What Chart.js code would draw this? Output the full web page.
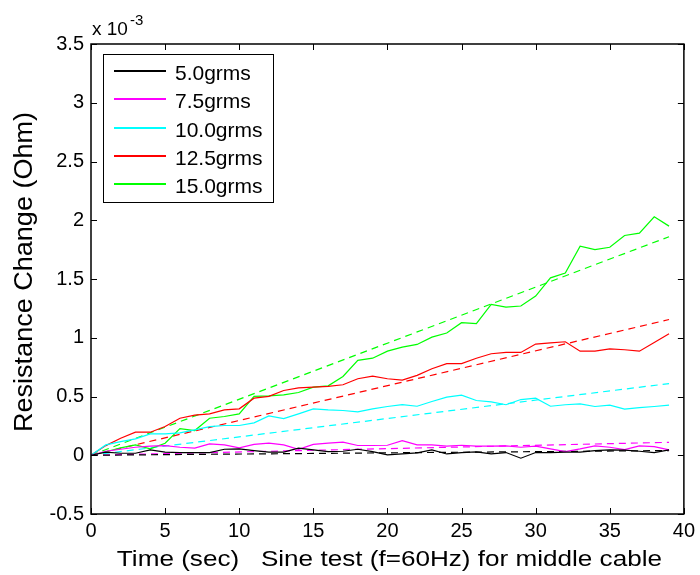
<!DOCTYPE html>
<html>
<head>
<meta charset="utf-8">
<script src="https://cdn.jsdelivr.net/npm/chart.js@4/dist/chart.umd.min.js"></script>
<style>
  html, body { margin: 0; padding: 0; background: #fff; }
  canvas { display: block; }
</style>
</head>
<body>
<canvas id="chart" width="700" height="575"></canvas>
<script>
// time in seconds, one sample per second
const times = [0, 1, 2, 3, 4, 5, 6, 7, 8, 9, 10, 11, 12, 13, 14, 15, 16, 17, 18, 19,
               20, 21, 22, 23, 24, 25, 26, 27, 28, 29, 30, 31, 32, 33, 34, 35, 36, 37, 38, 39];

// resistance change, in units of 1e-3 Ohm
const g5_0 = [0, 0.026, 0.017, 0.017, 0.046, 0.026, 0.023, 0.023, 0.023, 0.051,
              0.054, 0.040, 0.026, 0.026, 0.060, 0.046, 0.031, 0.034, 0.051, 0.031,
              0.003, 0.011, 0.020, 0.046, 0.011, 0.023, 0.029, 0.011, 0.023, -0.025,
              0.023, 0.023, 0.026, 0.026, 0.040, 0.046, 0.043, 0.034, 0.023, 0.046];
const g7_5 = [0, 0.034, 0.051, 0.068, 0.077, 0.082, 0.068, 0.060, 0.097, 0.088,
              0.063, 0.092, 0.103, 0.088, 0.051, 0.092, 0.103, 0.111, 0.083, 0.083,
              0.085, 0.125, 0.088, 0.088, 0.077, 0.085, 0.077, 0.077, 0.080, 0.068,
              0.077, 0.054, 0.031, 0.054, 0.080, 0.068, 0.048, 0.080, 0.074, 0.046];
const g10_0 = [0, 0.088, 0.116, 0.139, 0.182, 0.182, 0.190, 0.216, 0.244, 0.253,
               0.253, 0.276, 0.335, 0.312, 0.352, 0.395, 0.386, 0.381, 0.369, 0.395,
               0.415, 0.430, 0.417, 0.457, 0.494, 0.511, 0.466, 0.455, 0.430, 0.474,
               0.486, 0.417, 0.430, 0.438, 0.415, 0.426, 0.392, 0.406, 0.415, 0.426];
const g12_5 = [0, 0.082, 0.145, 0.196, 0.196, 0.244, 0.315, 0.341, 0.352, 0.386,
               0.395, 0.486, 0.501, 0.551, 0.574, 0.580, 0.586, 0.600, 0.651, 0.673,
               0.651, 0.640, 0.680, 0.736, 0.780, 0.780, 0.826, 0.864, 0.875, 0.875,
               0.946, 0.957, 0.966, 0.886, 0.886, 0.906, 0.898, 0.886, 0.960, 1.034];
const g15_0 = [0, 0.030, 0.063, 0.088, 0.054, 0.102, 0.227, 0.210, 0.315, 0.330,
               0.352, 0.501, 0.506, 0.514, 0.534, 0.580, 0.591, 0.670, 0.807, 0.826,
               0.886, 0.920, 0.943, 1.005, 1.040, 1.128, 1.120, 1.284, 1.260, 1.270,
               1.355, 1.510, 1.550, 1.780, 1.750, 1.770, 1.870, 1.890, 2.030, 1.950];

// linear fits (dashed), end points
const fitTimes = [0, 39];
const fit5_0 = [0, 0.04];
const fit7_5 = [0, 0.11];
const fit10_0 = [0, 0.61];
const fit12_5 = [0, 1.155];
const fit15_0 = [0, 1.86];

const seriesNames = ["5.0grms", "7.5grms", "10.0grms", "12.5grms", "15.0grms"];
const seriesColors = ["#000000", "#ff00ff", "#00ffff", "#ff0000", "#00ff00"];

const xTickLabels = ["0", "5", "10", "15", "20", "25", "30", "35", "40"];
const yTickLabels = ["-0.5", "0", "0.5", "1", "1.5", "2", "2.5", "3", "3.5"];

const xTitle = "Time (sec)   Sine test (f=60Hz) for middle cable";
const yTitle = "Resistance Change (Ohm)";

const FONT = "'Liberation Sans', Arial, sans-serif";

function toPoints(xs, ys) {
    return xs.map((x, i) => ({ x: x, y: ys[i] }));
}

const measured = [g5_0, g7_5, g10_0, g12_5, g15_0];
const fits = [fit5_0, fit7_5, fit10_0, fit12_5, fit15_0];

const datasets = [];
measured.forEach((vals, i) => {
    datasets.push({
        label: seriesNames[i],
        data: toPoints(times, vals),
        borderColor: seriesColors[i],
        borderWidth: 1.2,
        pointRadius: 0,
        tension: 0
    });
});
fits.forEach((vals, i) => {
    datasets.push({
        label: seriesNames[i] + " fit",
        isFit: true,
        data: toPoints(fitTimes, vals),
        borderColor: seriesColors[i],
        borderWidth: 1.2,
        borderDash: [7, 5],
        pointRadius: 0,
        tension: 0
    });
});

// box, inward ticks, legend and titles drawn the way MATLAB does
const matlabFrame = {
    id: "matlabFrame",
    afterDraw(chart) {
        const { ctx, chartArea: a, scales: { x, y } } = chart;
        ctx.save();

        ctx.strokeStyle = "#000";
        ctx.lineWidth = 1;
        ctx.beginPath();
        x.ticks.forEach(t => {
            const px = Math.round(x.getPixelForValue(t.value)) + 0.5;
            ctx.moveTo(px, a.bottom); ctx.lineTo(px, a.bottom - 6);
            ctx.moveTo(px, a.top); ctx.lineTo(px, a.top + 6);
        });
        y.ticks.forEach(t => {
            const py = Math.round(y.getPixelForValue(t.value)) + 0.5;
            ctx.moveTo(a.left, py); ctx.lineTo(a.left + 6, py);
            ctx.moveTo(a.right, py); ctx.lineTo(a.right - 6, py);
        });
        ctx.stroke();
        ctx.lineWidth = 1.5;
        ctx.strokeRect(a.left, a.top, a.right - a.left, a.bottom - a.top);

        // legend
        const items = chart.data.datasets.filter(d => !d.isFit);
        ctx.fillStyle = "#fff";
        ctx.fillRect(103.5, 54.5, 170, 148);
        ctx.lineWidth = 1;
        ctx.strokeStyle = "#000";
        ctx.strokeRect(103.5, 54.5, 170, 148);
        ctx.font = "21px " + FONT;
        ctx.textAlign = "left";
        ctx.textBaseline = "alphabetic";
        items.forEach((d, i) => {
            const ly = Math.round(70.7 + i * 28.4);
            ctx.fillStyle = d.borderColor;
            ctx.fillRect(114, ly - 1, 52, 2);
            ctx.fillStyle = "#000";
            ctx.fillText(d.label, 175, ly + 9);
        });

        // exponent label
        ctx.fillStyle = "#000";
        ctx.font = "19px " + FONT;
        ctx.fillText("x 10", 92, 35);
        ctx.font = "15px " + FONT;
        ctx.fillText("-3", 130, 25);

        // x title
        ctx.save();
        ctx.font = "22.5px " + FONT;
        ctx.textAlign = "center";
        ctx.translate((a.left + a.right) / 2 + 2, 566);
        ctx.scale(1.16, 1);
        ctx.fillText(xTitle, 0, 0);
        ctx.restore();

        // y title
        ctx.save();
        ctx.font = "25.5px " + FONT;
        ctx.textAlign = "center";
        ctx.translate(31.5, 272);
        ctx.rotate(-Math.PI / 2);
        ctx.scale(1.06, 1);
        ctx.fillText(yTitle, 0, 0);
        ctx.restore();

        ctx.restore();
    }
};

const chart = new Chart(document.getElementById("chart"), {
    type: "line",
    data: { datasets: datasets },
    options: {
        responsive: false,
        animation: false,
        devicePixelRatio: 1,
        layout: { padding: { left: 0, top: 44, right: 15, bottom: 0 } },
        plugins: { legend: { display: false }, tooltip: { enabled: false } },
        scales: {
            x: {
                type: "linear",
                min: 0, max: 40,
                grid: { display: false, drawTicks: false },
                border: { display: false },
                ticks: {
                    stepSize: 5,
                    padding: 5,
                    color: "#000",
                    font: { family: FONT, size: 20 },
                    maxRotation: 0,
                    callback: (v, i) => xTickLabels[i]
                },
                afterFit: s => { s.height = 61; }
            },
            y: {
                type: "linear",
                min: -0.5, max: 3.5,
                grid: { display: false, drawTicks: false },
                border: { display: false },
                ticks: {
                    stepSize: 0.5,
                    padding: 7,
                    color: "#000",
                    font: { family: FONT, size: 20 },
                    callback: (v, i) => yTickLabels[i]
                },
                afterFit: s => { s.width = 91; }
            }
        }
    },
    plugins: [matlabFrame]
});
</script>
</body>
</html>
